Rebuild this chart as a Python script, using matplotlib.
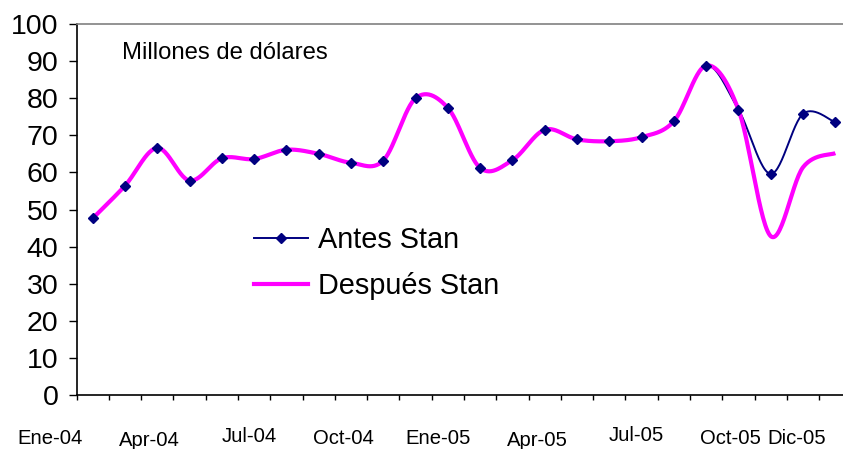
import numpy as np
import matplotlib
matplotlib.use("Agg")
import matplotlib.pyplot as plt
from matplotlib.lines import Line2D
from matplotlib.transforms import blended_transform_factory

plt.rcParams["font.family"] = ["Liberation Sans", "DejaVu Sans"]

# Data (millones de dolares), Ene-04 .. Dic-05
months = ["Ene-04", "Feb-04", "Mar-04", "Apr-04", "May-04", "Jun-04",
          "Jul-04", "Ago-04", "Sep-04", "Oct-04", "Nov-04", "Dic-04",
          "Ene-05", "Feb-05", "Mar-05", "Apr-05", "May-05", "Jun-05",
          "Jul-05", "Ago-05", "Sep-05", "Oct-05", "Nov-05", "Dic-05"]
antes = [47.6, 56.4, 66.6, 57.8, 63.8, 63.6, 66.1, 65.0, 62.6, 63.2, 80.0, 77.4,
         61.2, 63.3, 71.5, 68.9, 68.4, 69.5, 73.8, 88.8, 76.9, 59.6, 75.8, 73.5]
despues = [47.6, 56.4, 66.6, 57.8, 63.8, 63.6, 66.1, 65.0, 62.6, 63.2, 80.0, 77.4,
           61.2, 63.3, 71.5, 68.9, 68.4, 69.5, 73.8, 88.8, 76.9, 42.8, 61.4, 65.2]
label_idx = [0, 3, 6, 9, 12, 15, 18, 21, 23]
label_shift = [0, 2, -2.5, 0, 0, 2, -3, 0, 0]   # small vertical stagger (px)


def smooth(y, n=30):
    # Catmull-Rom style smoothing like Excel's "smoothed line"
    y = np.asarray(y, float)
    x = np.arange(len(y), dtype=float)
    pts = np.column_stack([x, y])
    ext = np.vstack([pts[0], pts, pts[-1]])
    out = []
    t = np.linspace(0, 1, n)
    for i in range(len(pts) - 1):
        p0, p1, p2, p3 = ext[i], ext[i + 1], ext[i + 2], ext[i + 3]
        c1 = p1 + (p2 - p0) / 6.0
        c2 = p2 - (p3 - p1) / 6.0
        seg = ((1 - t)[:, None] ** 3 * p1 + 3 * ((1 - t) ** 2 * t)[:, None] * c1
               + 3 * ((1 - t) * t ** 2)[:, None] * c2 + (t ** 3)[:, None] * p2)
        out.append(seg if i == 0 else seg[1:])
    out = np.vstack(out)
    return out[:, 0], out[:, 1]


W, H = 843, 449
fig = plt.figure(figsize=(W / 100, H / 100), dpi=100)
ax = fig.add_axes([76.5 / W, (H - 395) / H, 775 / W, 371 / H])

navy = "#000080"
pink = "#FF00FF"

xa, ya = smooth(antes)
xd, yd = smooth(despues)
ax.plot(xa, ya, color=navy, lw=1.4, zorder=2)
ax.plot(xd, yd, color=pink, lw=3.0, zorder=3, solid_capstyle="butt")
ax.plot(np.arange(len(antes)), antes, ls="none", marker="D", ms=5.2,
        color=navy, mec=navy, zorder=4)

ax.set_xlim(-0.5, len(months) - 0.5)
ax.set_ylim(0, 100)
ax.set_yticks(np.arange(0, 101, 10))
ax.tick_params(axis="y", direction="out", length=6, width=1, labelsize=20.5, pad=7)

# x: tick marks between categories, labels drawn as text
ax.set_xticks(np.arange(-0.5, len(months) - 0.4, 1))
ax.set_xticklabels([])
ax.tick_params(axis="x", direction="out", length=3.5, width=1)
trans = blended_transform_factory(ax.transData, fig.transFigure)
for i, dy in zip(label_idx, label_shift):
    ax.text(i - 0.3, 1 - (444 + dy) / H, months[i], transform=trans,
            ha="right", va="baseline", fontsize=14.6)

for s in ["left", "bottom"]:
    ax.spines[s].set_color("black")
    ax.spines[s].set_linewidth(1.2)
ax.spines["top"].set_color("#808080")
ax.spines["top"].set_linewidth(1.2)
ax.spines["right"].set_visible(False)

fig.text(122 / W, 1 - 53 / H, "Millones de dólares", fontsize=17.2, va="center", ha="left")

handles = [Line2D([], [], color=navy, lw=1.4, marker="D", ms=5.2),
           Line2D([], [], color=pink, lw=3.0)]
fig.legend(handles, ["Antes Stan", "Después Stan"], loc="upper left",
           bbox_to_anchor=(254 / W, 1 - 226 / H), frameon=False, fontsize=20.8,
           handlelength=1.87, handletextpad=0.35, labelspacing=0.62,
           borderpad=0, borderaxespad=0)

fig.savefig("out.png", dpi=100)
